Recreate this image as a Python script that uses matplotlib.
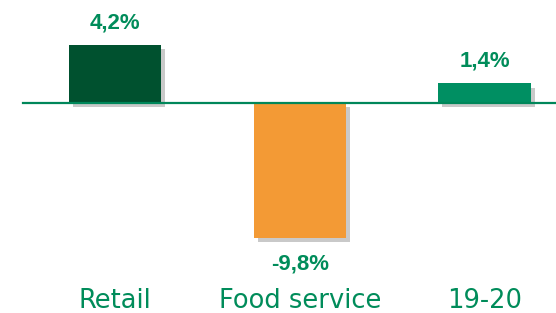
import matplotlib
matplotlib.use('Agg')
import matplotlib.pyplot as plt
import matplotlib.patheffects as pe

# data
categories = ['Retail', 'Food service', '19-20']
values = [4.2, -9.8, 1.4]
value_labels = ['4,2%', '-9,8%', '1,4%']
bar_colors = ['#00512F', '#F39A35', '#008F62']

green_text = '#008C5A'

fig = plt.figure(figsize=(5.56, 3.13), dpi=100)
ax = fig.add_axes([0, 0, 1, 1])

x = list(range(len(categories)))
bars = ax.bar(x, values, width=0.5, color=bar_colors, zorder=3)
for b in bars:
    b.set_path_effects([pe.SimplePatchShadow(offset=(3, -3), shadow_rgbFace='#666666', alpha=0.35),
                        pe.Normal()])

# baseline
ax.plot([-0.498, 2.4], [0, 0], color='#00875A', linewidth=1.6, zorder=4)

for i, (v, lab) in enumerate(zip(values, value_labels)):
    if v >= 0:
        dy = 15.5 if i == 0 else 16
    else:
        dy = -19
    ax.annotate(lab, (i, v), xytext=(0, dy), textcoords='offset points',
                ha='center', va='center', fontsize=16, fontweight='bold',
                color=green_text, family='Liberation Sans')

for i, c in enumerate(categories):
    ax.text(i, -14.45, c, ha='center', va='center',
            fontsize=18.5, color=green_text, family='DejaVu Sans')

ax.set_xlim(-0.6225, 2.387)
ax.set_ylim(-15.29, 7.47)
ax.axis('off')

plt.savefig('out.png', dpi=100)
plt.close()
